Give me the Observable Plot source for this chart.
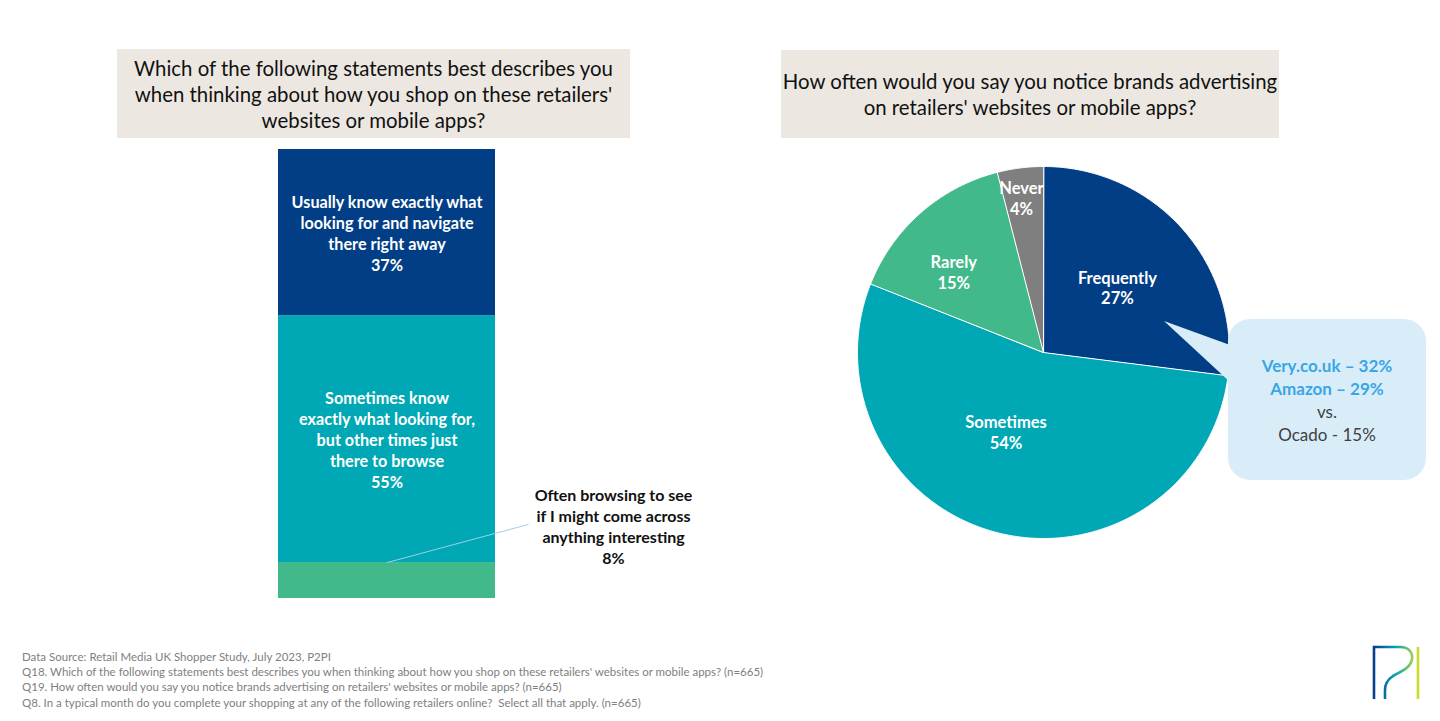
<!DOCTYPE html>
<html>
<head>
<meta charset="utf-8">
<script src="https://cdn.jsdelivr.net/npm/d3@7"></script>
<script src="https://cdn.jsdelivr.net/npm/@observablehq/plot@0.6"></script>
<style>
  html, body { margin: 0; padding: 0; background: #fff; }
  #page { position: relative; width: 1440px; height: 721px; overflow: hidden; font-family: Lato, "Noto Sans", sans-serif; }
  .titlebox { position: absolute; background: #ECE8E1; color: #111; font-size: 20.4px; line-height: 26px; text-align: center; display: flex; align-items: center; justify-content: center; box-sizing: border-box; white-space: nowrap; }
  .abs { position: absolute; }
  #callout { position: absolute; left: 1228px; top: 319px; width: 198px; height: 161px; border-radius: 22px; background: #D9EDF9; display: flex; flex-direction: column; align-items: center; justify-content: center; font-size: 17px; line-height: 23px; color: #404040; }
  #callout .hl { color: #3AA6E6; font-weight: bold; }
  #footer { position: absolute; left: 22px; top: 649px; font-size: 11.5px; line-height: 15.2px; color: #808080; white-space: nowrap; }
</style>
</head>
<body>
<div id="page">
  <div class="titlebox" id="t1" style="left:117px; top:49px; width:513px; height:89px;"></div>
  <div class="titlebox" id="t2" style="left:781px; top:50px; width:498px; height:88px;"></div>
  <div class="abs" id="bar" style="left:230px; top:140px;"></div>
  <div class="abs" id="pie" style="left:820px; top:150px;"></div>
  <svg class="abs" style="left:1150px; top:310px;" width="90" height="90">
    <polygon points="14,11 80,35 80,72" fill="#D9EDF9"></polygon>
  </svg>
  <div id="callout"></div>
  <div id="footer"></div>
  <svg class="abs" style="left:1366px; top:642px;" width="60" height="64">
    <defs>
      <linearGradient id="lg" x1="0" x2="1" y1="0" y2="0">
        <stop offset="0" stop-color="#0B3C8C"></stop>
        <stop offset="0.5" stop-color="#00A6B4"></stop>
        <stop offset="1" stop-color="#CFDB2A"></stop>
      </linearGradient>
    </defs>
    <path d="M8,57 L8,5 L34,5 C43,5 47,11 46,17 C45,26 34,30 27,34 C21,38 19,42 19,48 L19,57 M52,5 L52,57" fill="none" stroke="url(#lg)" stroke-width="2.6"></path>
  </svg>
</div>
<script>
// ---------- Data ----------
const title1 = "Which of the following statements best describes you\nwhen thinking about how you shop on these retailers'\nwebsites or mobile apps?";
const title2 = "How often would you say you notice brands advertising\non retailers' websites or mobile apps?";

const barCategories = [
  "Often browsing to see if I might come across anything interesting",
  "Sometimes know exactly what looking for, but other times just there to browse",
  "Usually know exactly what looking for and navigate there right away"
];
const barValues = [8, 55, 37];
const barLabels = [
  "Often browsing to see\nif I might come across\nanything interesting\n8%",
  "Sometimes know\nexactly what looking for,\nbut other times just\nthere to browse\n55%",
  "Usually know exactly what\nlooking for and navigate\nthere right away\n37%"
];
const barColors = ["#42B98B", "#00A8B5", "#023E85"];

const pieCategories = ["Frequently", "Sometimes", "Rarely", "Never"];
const pieValues = [27, 54, 15, 4];
const pieColors = ["#023E85", "#00A8B5", "#42B98B", "#7F7F7F"];

const calloutHighlights = ["Very.co.uk \u2013 32%", "Amazon \u2013 29%"];
const calloutRest = ["vs.", "Ocado - 15%"];

const footerLines = [
  "Data Source: Retail Media UK Shopper Study, July 2023, P2PI",
  "Q18. Which of the following statements best describes you when thinking about how you shop on these retailers' websites or mobile apps? (n=665)",
  "Q19. How often would you say you notice brands advertising on retailers' websites or mobile apps? (n=665)",
  "Q8. In a typical month do you complete your shopping at any of the following retailers online?  Select all that apply. (n=665)"
];

// ---------- Titles, callout, footer ----------
document.getElementById("t1").innerHTML = title1.split("\n").join("<br>");
document.getElementById("t2").innerHTML = title2.split("\n").join("<br>");
const co = document.getElementById("callout");
calloutHighlights.forEach(t => { const d = document.createElement("div"); d.className = "hl"; d.textContent = t; co.appendChild(d); });
calloutRest.forEach(t => { const d = document.createElement("div"); d.textContent = t; co.appendChild(d); });
const ft = document.getElementById("footer");
footerLines.forEach(t => { const d = document.createElement("div"); d.style.whiteSpace = "pre"; d.textContent = t; ft.appendChild(d); });

// ---------- Stacked bar ----------
const barData = barCategories.map((c, i) => ({category: c, value: barValues[i], label: barLabels[i]}));
const labelFont = {fontFamily: "Lato, 'Noto Sans', sans-serif", fontWeight: "bold", fontSize: 16.2, lineHeight: 1.3};

const barPlot = Plot.plot({
  width: 500, height: 470,
  marginLeft: 48, marginRight: 235, marginTop: 9, marginBottom: 12,
  x: {domain: [0, 1], axis: null},
  y: {domain: [0, 100], axis: null},
  color: {domain: barCategories, range: barColors},
  style: {background: "transparent", overflow: "visible"},
  marks: [
    Plot.rectY(barData, Plot.stackY({x1: 0, x2: 1, y: "value", fill: "category"})),
    Plot.text(barData, Plot.stackY({x: 0.5, y: "value", text: d => d.value >= 20 ? d.label : null, fill: "white", ...labelFont})),
    Plot.link(barData.filter(d => d.value < 20), {x1: 0.5, y1: "value", x2: 1.152, y2: 16.5, stroke: "#9BD0EA", strokeWidth: 1}),
    Plot.text(barData.filter(d => d.value < 20), {x: 1.544, y: 16.15, text: "label", fill: "#111", ...labelFont, fontSize: 16})
  ]
});
document.getElementById("bar").appendChild(barPlot);

// ---------- Pie ----------
const pieData = pieCategories.map((c, i) => ({name: c, value: pieValues[i], color: pieColors[i]}));
const arcs = d3.pie().sort(null).value(d => d.value)(pieData);
function slicePoints(a) {
  const n = Math.max(4, Math.ceil((a.endAngle - a.startAngle) / 0.008));
  const pts = [{x: 0, y: 0}];
  for (let i = 0; i <= n; i++) {
    const t = a.startAngle + (a.endAngle - a.startAngle) * i / n;
    pts.push({x: Math.sin(t), y: Math.cos(t)});
  }
  return pts;
}
// label placement (radius fraction, angle nudge in degrees)
const pieLabelPlacement = {Frequently: [0.53, 0], Sometimes: [0.47, 11], Rarely: [0.65, -6.5], Never: [0.84, -0.9]};
const pieLabels = arcs.map(a => {
  const [rf, da] = pieLabelPlacement[a.data.name];
  const t = (a.startAngle + a.endAngle) / 2 + da * Math.PI / 180;
  return {x: rf * Math.sin(t), y: rf * Math.cos(t), text: a.data.name + "\n" + a.data.value + "%"};
});

const piePlot = Plot.plot({
  width: 440, height: 410,
  marginLeft: 37, marginRight: 31, marginTop: 16, marginBottom: 22,
  x: {domain: [-1, 1], axis: null},
  y: {domain: [-1, 1], axis: null},
  style: {background: "transparent", overflow: "visible"},
  marks: [
    ...arcs.map(a => Plot.line(slicePoints(a), {x: "x", y: "y", fill: a.data.color, stroke: "white", strokeWidth: 1, curve: "linear-closed"})),
    Plot.text(pieLabels, {x: "x", y: "y", text: "text", fill: "white", ...labelFont, fontSize: 16.5, lineHeight: 1.27})
  ]
});
document.getElementById("pie").appendChild(piePlot);
</script>
</body>
</html>
